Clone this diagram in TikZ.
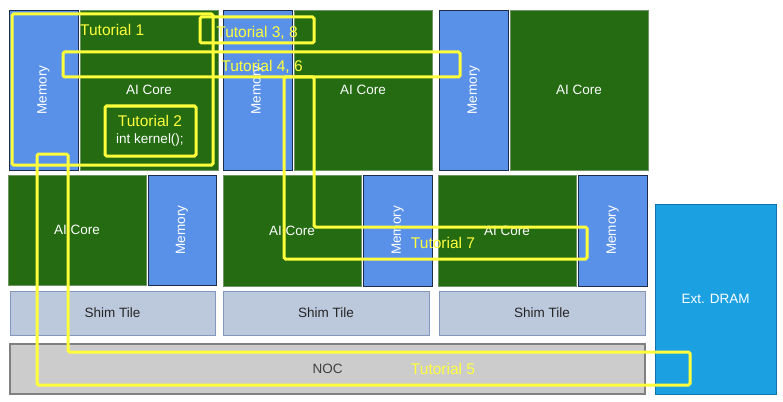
\documentclass[tikz,border=0pt]{standalone}
\usepackage{fontspec}
\setmainfont{Liberation Sans}
\usepackage{tikz}
\usetikzlibrary{positioning}
\definecolor{coregreen}{RGB}{36, 107, 18}
\definecolor{coreedge}{RGB}{110, 150, 100}
\definecolor{memblue}{RGB}{90, 145, 232}
\definecolor{memedge}{RGB}{30, 45, 75}
\definecolor{shimfill}{RGB}{188, 200, 220}
\definecolor{shimedge}{RGB}{130, 152, 190}
\definecolor{nocfill}{RGB}{204, 204, 204}
\definecolor{nocedge}{RGB}{128, 128, 128}
\definecolor{dramblue}{RGB}{27, 161, 226}
\definecolor{dramedge}{RGB}{15, 115, 175}
\definecolor{tutyellow}{RGB}{255, 255, 60}
\tikzset{
  tile/.style={rectangle, inner sep=0pt, outer sep=0pt, font=\fontsize{13.5}{15}\selectfont, line width=0.8pt},
  aicore/.style={tile, draw=coreedge, fill=coregreen, text=white, minimum width=138pt},
  memtile/.style={tile, draw=memedge, fill=memblue, text=white, minimum width=69pt},
  memtext/.style={rotate=90, text=white, font=\fontsize{13.5}{15}\selectfont},
  shim/.style={tile, draw=shimedge, fill=shimfill, text=black!85, minimum width=206pt, minimum height=44pt},
  tutbox/.style={draw=tutyellow, line width=3pt, rounded corners=1.5pt},
  tutlabel/.style={text=tutyellow, font=\fontsize{15.5}{17}\selectfont, inner sep=0pt}
}
\begin{document}
\begin{tikzpicture}[x=1pt, y=-1pt]
  \useasboundingbox (0,0) rectangle (783,401);

  % Top row
  \node[memtile, minimum height=160pt] (mem1) at (43.5, 90) {};
  \node[memtext] at (mem1) {Memory};
  \node[aicore, minimum height=160pt] (core1) at (149, 90) {AI Core};
  \node[memtile, minimum height=160pt] (mem2) at (257.5, 90) {};
  \node[memtext] at (mem2) {Memory};
  \node[aicore, minimum height=160pt] (core2) at (363, 90) {AI Core};
  \node[memtile, minimum height=160pt] (mem3) at (473.5, 90) {};
  \node[memtext] at (mem3) {Memory};
  \node[aicore, minimum height=160pt] (core3) at (579, 90) {AI Core};

  % Middle row
  \node[aicore, minimum height=110pt] (core4) at (77, 230) {AI Core};
  \node[memtile, minimum width=68pt, minimum height=110pt] (mem4) at (182, 230) {};
  \node[memtext] at (mem4) {Memory};
  \node[aicore, minimum height=111pt] (core5) at (292, 230.5) {AI Core};
  \node[memtile, minimum height=111pt] (mem5) at (397.5, 230.5) {};
  \node[memtext] at (mem5) {Memory};
  \node[aicore, minimum height=111pt] (core6) at (507, 230.5) {AI Core};
  \node[memtile, minimum height=111pt] (mem6) at (612.5, 230.5) {};
  \node[memtext] at (mem6) {Memory};

  % Shim tiles, NOC and DRAM
  \node[shim, minimum width=205pt] (shim1) at (112.5, 313) {Shim Tile};
  \node[shim] (shim2) at (326, 313) {Shim Tile};
  \node[shim] (shim3) at (542, 313) {Shim Tile};
  \node[tile, draw=nocedge, line width=1.2pt, fill=nocfill, text=black!75, minimum width=635pt, minimum height=50pt] (noc) at (327.5, 369) {NOC};
  \node[tile, draw=dramedge, fill=dramblue, text=white, minimum width=121pt, minimum height=190pt] (dram) at (715.5, 299) {Ext. DRAM};

  % Tutorial overlays
  \draw[tutbox] (12, 14) rectangle (213, 165);
  \node[tutlabel, anchor=west] (tut1) at (80, 30) {Tutorial 1};
  \draw[tutbox] (105, 106) rectangle (196, 156);
  \node[tutlabel] (tut2) at (150, 121) {Tutorial 2};
  \node[text=white, font=\fontsize{13.5}{15}\selectfont, inner sep=0pt] (kern) at (150, 140) {int kernel();};
  \draw[tutbox] (200, 17) rectangle (314, 43);
  \node[tutlabel] (tut38) at (257, 33) {Tutorial 3, 8};
  \draw[tutbox] (63, 52) rectangle (460, 77);
  \node[tutlabel] (tut46) at (262, 67) {Tutorial 4, 6};
  \draw[tutbox] (37, 154) -- (68, 154) -- (68, 352) -- (690, 352) -- (690, 385) -- (37, 385) -- cycle;
  \node[tutlabel] (tut5) at (443, 369) {Tutorial 5};
  \draw[tutbox] (284, 77) -- (314, 77) -- (314, 227) -- (587, 227) -- (587, 259) -- (284, 259) -- cycle;
  \node[tutlabel] (tut7) at (443, 243) {Tutorial 7};
\end{tikzpicture}
\end{document}
